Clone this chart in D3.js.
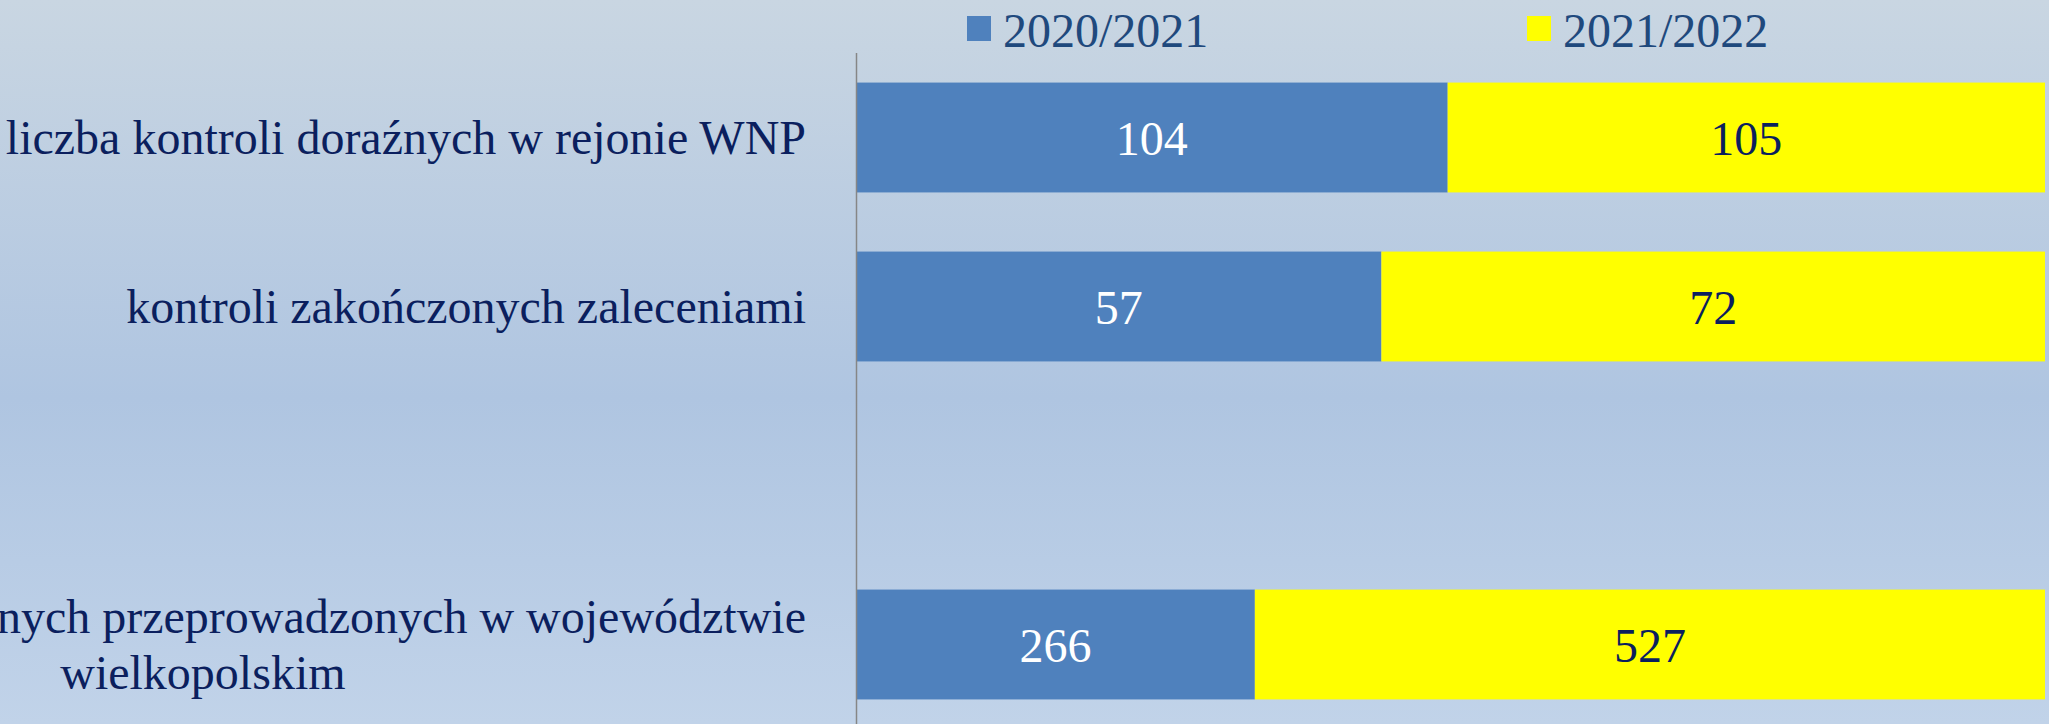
<!DOCTYPE html>
<html>
<head>
<meta charset="utf-8">
<script src="https://cdn.jsdelivr.net/npm/d3@7"></script>
<style>
  html, body { margin: 0; padding: 0; overflow: hidden; }
  svg { display: block; }
</style>
</head>
<body>
<svg id="chart" width="2049" height="724"></svg>
<script>
var width = 2049;
var height = 724;

// category labels (third row is an empty slot in the source chart)
var categories = [
    ['liczba kontroli doraźnych w rejonie WNP'],
    ['kontroli zakończonych zaleceniami'],
    [],
    ['liczba kontroli doraźnych przeprowadzonych w województwie', 'wielkopolskim']
];
var seriesNames = ['2020/2021', '2021/2022'];
var values2021 = [104, 57, 0, 266];
var values2022 = [105, 72, 0, 527];
var seriesColors = ['#4f81bd', '#ffff00'];
var labelColors = ['#ffffff', '#0b1f5e'];

var rows = categories.map((c, i) => ({
    idx: i,
    '2020/2021': values2021[i],
    '2021/2022': values2022[i]
}));

var svg = d3.select('#chart');

// background gradient
var defs = svg.append('defs');
var grad = defs.append('linearGradient')
    .attr('id', 'bg')
    .attr('x1', 0).attr('y1', 0).attr('x2', 0).attr('y2', 1);
grad.append('stop').attr('offset', '0%').attr('stop-color', '#c9d6e2');
grad.append('stop').attr('offset', '55%').attr('stop-color', '#afc5e1');
grad.append('stop').attr('offset', '100%').attr('stop-color', '#c1d3e9');

svg.append('rect')
    .attr('width', width)
    .attr('height', height)
    .attr('fill', 'url(#bg)');

var x = d3.scaleLinear()
    .domain([0, 1])
    .range([856, 2045]);

var y = d3.scaleBand()
    .domain(d3.range(categories.length))
    .range([53, 729])
    .paddingInner(0.35)
    .paddingOuter(0.175);

var stack = d3.stack()
    .keys(seriesNames)
    .value((d, key) => d[key])
    .offset(d3.stackOffsetExpand);

var stacked = stack(rows);

var font = '"Liberation Serif", "Times New Roman", serif';

var layers = svg.selectAll('g.layer')
    .data(stacked)
    .enter().append('g')
    .attr('class', 'layer')
    .attr('fill', (d, i) => seriesColors[i]);

layers.selectAll('rect')
    .data(d => d.filter(p => !isNaN(p[1]) && p[1] > p[0]))
    .enter().append('rect')
    .attr('x', d => x(d[0]))
    .attr('y', d => y(d.data.idx))
    .attr('width', d => x(d[1]) - x(d[0]))
    .attr('height', y.bandwidth());

// value labels
stacked.forEach((layer, si) => {
    svg.append('g')
        .selectAll('text')
        .data(layer.filter(p => !isNaN(p[1]) && p[1] > p[0]))
        .enter().append('text')
        .attr('x', d => (x(d[0]) + x(d[1])) / 2)
        .attr('y', d => y(d.data.idx) + y.bandwidth() / 2 + 17)
        .attr('text-anchor', 'middle')
        .attr('font-family', font)
        .attr('font-size', 48)
        .attr('fill', labelColors[si])
        .text(d => d.data[layer.key]);
});

// y axis line
svg.append('line')
    .attr('x1', 856.5).attr('x2', 856.5)
    .attr('y1', y.range()[0]).attr('y2', height)
    .attr('stroke', '#868686')
    .attr('stroke-width', 1.5);

// category labels
var labelRight = 806;
var lineGap = 56;
categories.forEach((lines, i) => {
    if (!lines.length) return;
    var cy = y(i) + y.bandwidth() / 2;
    var g = svg.append('g');
    var first = cy + 16 - (lines.length - 1) * lineGap / 2;
    var t0 = g.append('text')
        .attr('x', labelRight)
        .attr('y', first)
        .attr('text-anchor', 'end')
        .attr('font-family', font)
        .attr('font-size', 48)
        .attr('fill', '#0b1f5e')
        .text(lines[0]);
    var w0 = t0.node().getComputedTextLength();
    var center = labelRight - w0 / 2;
    lines.slice(1).forEach((ln, j) => {
        g.append('text')
            .attr('x', center)
            .attr('y', first + (j + 1) * lineGap)
            .attr('text-anchor', 'middle')
            .attr('font-family', font)
            .attr('font-size', 48)
            .attr('fill', '#0b1f5e')
            .text(ln);
    });
});

// legend
var legendX = [967, 1527];
var legend = svg.selectAll('g.legend')
    .data(seriesNames)
    .enter().append('g')
    .attr('class', 'legend')
    .attr('transform', (d, i) => `translate(${legendX[i]},0)`);

legend.append('rect')
    .attr('x', 0).attr('y', 16)
    .attr('width', 24).attr('height', 25)
    .attr('fill', (d, i) => seriesColors[i]);

legend.append('text')
    .attr('x', 36)
    .attr('y', 47)
    .attr('font-family', font)
    .attr('font-size', 48)
    .attr('fill', '#1f497d')
    .text(d => d);
</script>
</body>
</html>
